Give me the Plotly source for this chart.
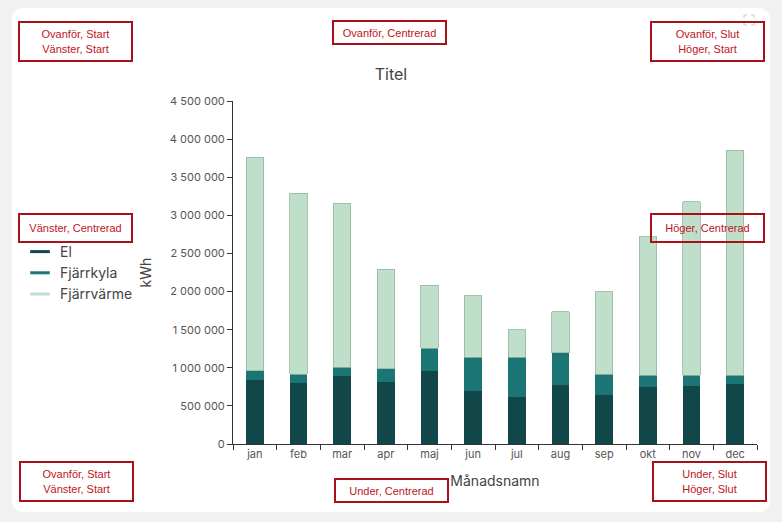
import plotly.graph_objects as go

W, H = 782, 522
L, R, T, B = 233, 25, 101, 78

months = ["jan", "feb", "mar", "apr", "maj", "jun", "jul", "aug", "sep", "okt", "nov", "dec"]
el = [838000, 794000, 890000, 807000, 952000, 689000, 614000, 772000, 640000, 746000, 759000, 789000]
fjarrkyla = [126000, 123000, 114000, 180000, 302000, 447000, 522000, 428000, 277000, 158000, 145000, 115000]
fjarrvarme = [2800000, 2373000, 2154000, 1303000, 826000, 811000, 364000, 537000, 1083000, 1816000, 2276000, 2951000]

series_names = ["El", "Fjärrkyla", "Fjärrvärme"]
series_colors = ["#114749", "#1b7575", "#c0dfca"]

# pixel -> paper helpers (plot area is fixed by the margins)
PW, PH = W - L - R, H - T - B


def px(x):
    return (x - L) / PW


def py(y):
    return (H - B - y) / PH


fig = go.Figure()
for name, vals, col in zip(series_names, [el, fjarrkyla, fjarrvarme], series_colors):
    line = dict(color="#93b79e", width=0.8) if name == "Fjärrvärme" else dict(width=0)
    fig.add_trace(go.Bar(x=months, y=vals, name=name, marker=dict(color=col, line=line),
                         showlegend=False))
    # legend shown as short lines
    fig.add_trace(go.Scatter(x=[None], y=[None], mode="markers", name=name,
                             marker=dict(symbol="line-ew", size=14, color=col,
                                         line=dict(color=col, width=3))))

fig.update_layout(
    width=W, height=H,
    margin=dict(l=L, r=R, t=T, b=B),
    barmode="stack", bargap=0.6,
    separators=", ",
    paper_bgcolor="#f1f1f1", plot_bgcolor="rgba(0,0,0,0)",
    font=dict(family="Inter", size=11, color="#555"),
    title=dict(text="Titel", x=0.5, xref="container", xanchor="center",
               y=1 - 74 / H, yref="container", yanchor="middle",
               font=dict(size=16, color="#444")),
    legend=dict(x=px(20), xanchor="left", y=py(273), yanchor="middle",
                font=dict(size=14, color="#444"), bgcolor="rgba(0,0,0,0)",
                traceorder="normal", tracegroupgap=0, itemsizing="trace"),
)
fig.update_xaxes(showline=True, linecolor="#333", linewidth=1, ticks="outside",
                 tickson="boundaries", ticklen=5, tickcolor="#333", showgrid=False,
                 title=dict(text="Månadsnamn", font=dict(size=14, color="#444"), standoff=15))
fig.update_yaxes(range=[0, 4500000], dtick=500000, tickformat=",d", showline=True,
                 linecolor="#333", linewidth=1, ticks="outside", ticklen=5, tickcolor="#333",
                 showgrid=False, zeroline=False,
                 title=dict(text="kWh", font=dict(size=14, color="#444"), standoff=14))

# white rounded card
x0, x1, y0, y1, r = px(12), px(770), py(512), py(8), 12
rx, ry = r / PW, r / PH
path = (f"M {x0+rx} {y0} L {x1-rx} {y0} Q {x1} {y0} {x1} {y0+ry} L {x1} {y1-ry} "
        f"Q {x1} {y1} {x1-rx} {y1} L {x0+rx} {y1} Q {x0} {y1} {x0} {y1-ry} "
        f"L {x0} {y0+ry} Q {x0} {y0} {x0+rx} {y0} Z")
fig.add_shape(type="path", path=path, xref="paper", yref="paper",
              fillcolor="white", line=dict(width=0), layer="below")

# faint fullscreen icon in the corner
ix0, ix1, iy0, iy1, c = 744, 754, 15, 25, 3
icon = ""
for cx, cy, dx, dy in [(ix0, iy0, 1, 1), (ix1, iy0, -1, 1), (ix0, iy1, 1, -1), (ix1, iy1, -1, -1)]:
    icon += f"M {px(cx + dx * c)} {py(cy)} L {px(cx)} {py(cy)} L {px(cx)} {py(cy + dy * c)} "
fig.add_shape(type="path", path=icon, xref="paper", yref="paper",
              line=dict(color="#c8c8c8", width=1))

boxes = [
    ("Ovanför, Start<br>Vänster, Start", 75.5, 41, 40),
    ("Ovanför, Centrerad", 389.5, 33, 24),
    ("Ovanför, Slut<br>Höger, Start", 707.5, 41, 40),
    ("Vänster, Centrerad", 75.5, 227.5, 29),
    ("Höger, Centrerad", 707.5, 227.5, 29),
    ("Ovanför, Start<br>Vänster, Start", 76.5, 481, 40),
    ("Under, Centrerad", 391.5, 490, 24),
    ("Under, Slut<br>Höger, Slut", 709, 481, 40),
]
for text, cx, cy, h in boxes:
    fig.add_annotation(text=text, xref="paper", yref="paper", x=px(cx), y=py(cy),
                       xanchor="center", yanchor="middle", showarrow=False,
                       width=111, height=h - 3, borderpad=0, borderwidth=2,
                       bordercolor="#a8101a", bgcolor="rgba(0,0,0,0)",
                       font=dict(family="Liberation Sans", size=11, color="#c0141c"))

fig.write_html("out.html", config={"displayModeBar": False},
               post_script="document.body.style.margin='0';")
